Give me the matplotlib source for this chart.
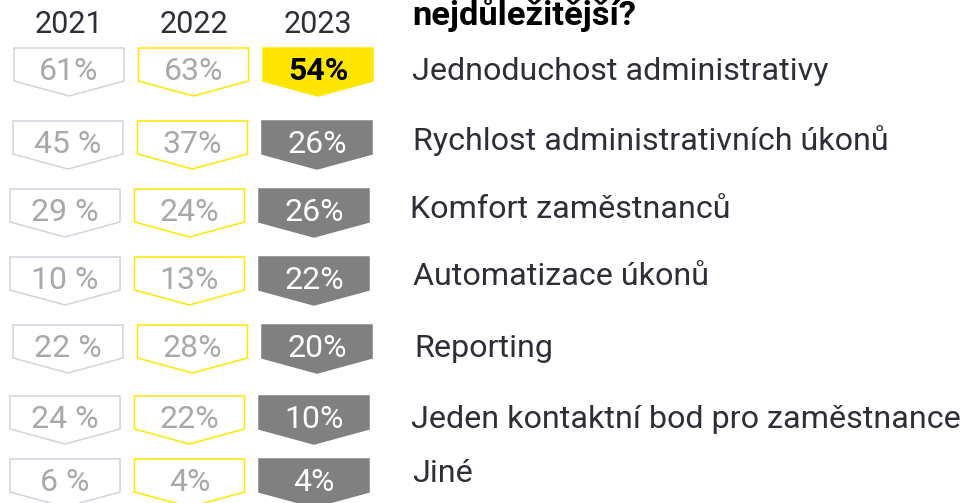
import matplotlib.pyplot as plt
from matplotlib.patches import Polygon

plt.rcParams['font.family'] = ['Roboto', 'DejaVu Sans']

years = ["2021", "2022", "2023"]
labels = ["Jednoduchost administrativy", "Rychlost administrativních úkonů",
          "Komfort zaměstnanců", "Automatizace úkonů", "Reporting",
          "Jeden kontaktní bod pro zaměstnance", "Jiné"]
vals_2021 = ["61%", "45 %", "29 %", "10 %", "22 %", "24 %", "6 %"]
vals_2022 = ["63%", "37%", "24%", "13%", "28%", "22%", "4%"]
vals_2023 = ["54%", "26%", "26%", "22%", "20%", "10%", "4%"]
title = "nejdůležitější?"

# layout in pixels (figure is 965 x 503)
row_top = [48, 121, 189, 257, 325, 396, 459]
row_x = [14, 13, 10, 10, 13, 10, 10]
label_x = [412, 413, 410, 413, 414, 411, 412]
label_base = [80, 150, 218, 285, 357, 428, 482]
box_w, rect_h, tip_h, col_step = 110, 33, 15, 124.5

YELLOW = "#ffe600"
DARK = "#2e2e38"
LIGHT_TXT = "#a8a8a8"

fig = plt.figure(figsize=(9.65, 5.03), dpi=100)
ax = fig.add_axes([0, 0, 1, 1])
ax.set_xlim(0, 965)
ax.set_ylim(503, 0)
ax.axis("off")


def arrow_box(x, top, face, edge):
    pts = [(x, top), (x + box_w, top), (x + box_w, top + rect_h),
           (x + box_w / 2, top + rect_h + tip_h), (x, top + rect_h)]
    ax.add_patch(Polygon(pts, closed=True, facecolor=face, edgecolor=edge, lw=1.1))


for j, yr in enumerate(years):
    cx = row_x[0] + j * col_step + box_w / 2
    ax.text(cx, 33, yr, ha="center", va="baseline", fontsize=22, color=DARK)

for i in range(len(labels)):
    top = row_top[i]
    x0 = row_x[i]
    base = top + 32
    # 2021
    arrow_box(x0, top, "white", "#d2d2dc")
    ax.text(x0 + box_w / 2, base, vals_2021[i], ha="center", va="baseline",
            fontsize=23, color=LIGHT_TXT)
    # 2022
    x1 = x0 + col_step
    arrow_box(x1, top, "white", YELLOW)
    ax.text(x1 + box_w / 2, base, vals_2022[i], ha="center", va="baseline",
            fontsize=23, color=LIGHT_TXT)
    # 2023
    x2 = x0 + 2 * col_step
    if i == 0:
        arrow_box(x2, top, YELLOW, YELLOW)
        ax.text(x2 + box_w / 2, base, vals_2023[i], ha="center", va="baseline",
                fontsize=23, color="black", fontweight="bold")
    else:
        arrow_box(x2, top, "#808080", "#808080")
        ax.text(x2 + box_w / 2, base, vals_2023[i], ha="center", va="baseline",
                fontsize=23, color="white")
    ax.text(label_x[i], label_base[i], labels[i], ha="left", va="baseline",
            fontsize=23.2, color=DARK)

ax.text(412, 25, title, ha="left", va="baseline", fontsize=24.8,
        fontweight="bold", color="black")

fig.savefig("out.png", dpi=100)
